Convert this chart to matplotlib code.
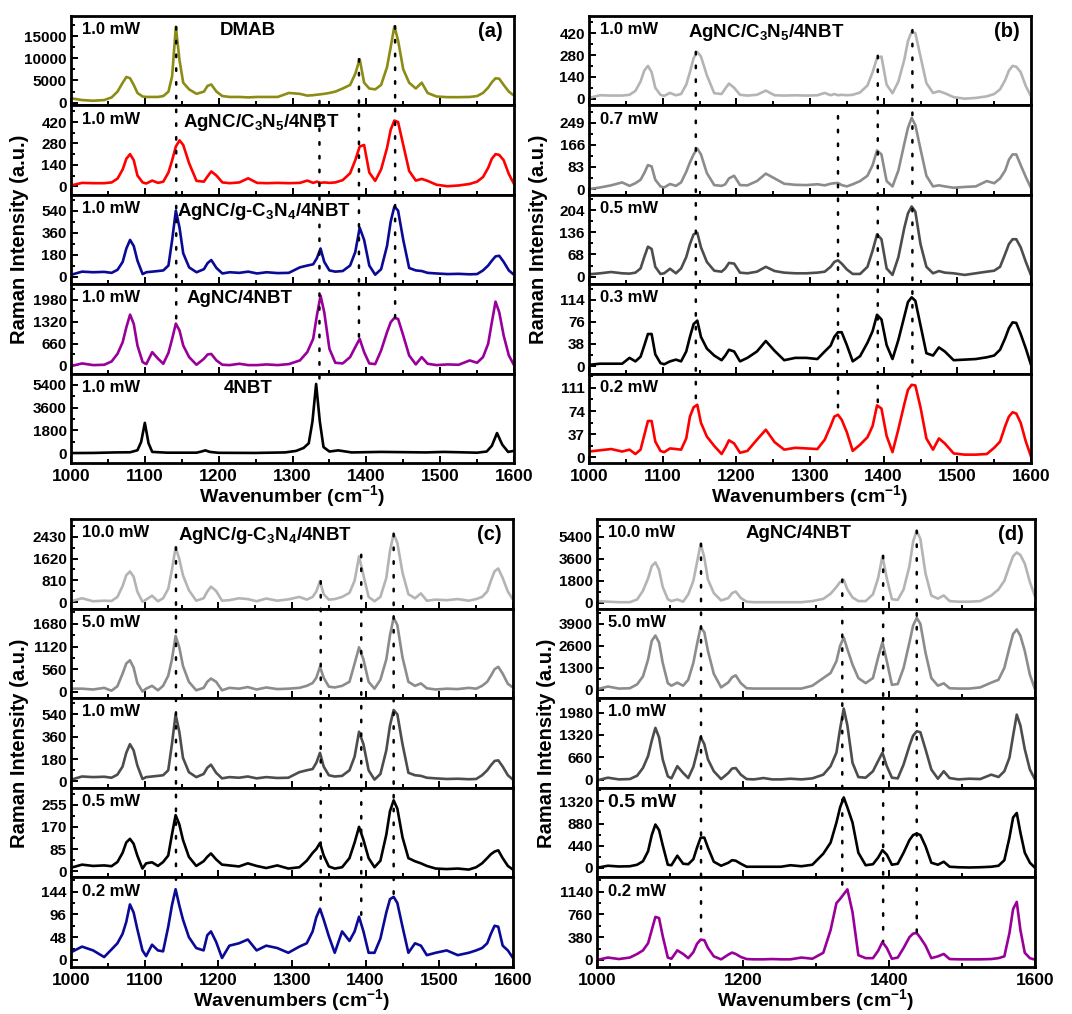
import matplotlib
matplotlib.use("Agg")
import matplotlib.pyplot as plt
from matplotlib.patches import ConnectionPatch
from matplotlib.ticker import MultipleLocator

plt.rcParams["font.family"] = ["Liberation Sans", "DejaVu Sans"]
plt.rcParams["font.weight"] = "bold"
plt.rcParams["axes.labelweight"] = "bold"
plt.rcParams["mathtext.fontset"] = "custom"
plt.rcParams["mathtext.rm"] = "Liberation Sans:bold"
plt.rcParams["mathtext.default"] = "rm"

wn = [1000, 1015, 1030, 1045, 1055, 1063, 1070, 1075, 1080, 1085,
      1090, 1097, 1102, 1110, 1118, 1125, 1132, 1137, 1142, 1147,
      1152, 1160, 1170, 1180, 1185, 1190, 1197, 1205, 1215, 1228,
      1240, 1252, 1265, 1280, 1295, 1310, 1320, 1328, 1333, 1338,
      1343, 1350, 1358, 1368, 1378, 1385, 1391, 1397, 1404, 1412,
      1420, 1428, 1433, 1438, 1443, 1450, 1458, 1467, 1475, 1483,
      1495, 1510, 1525, 1540, 1550, 1558, 1565, 1570, 1575, 1580,
      1586, 1593, 1600]

dmab_1mw = [1000, 600, 450, 600, 1200, 2500, 4500, 5800, 5500, 4000,
            2200, 1400, 1300, 1300, 1300, 1500, 2500, 6000, 17100, 9500,
            4500, 3000, 2000, 2500, 3800, 4100, 2500, 1500, 1300, 1300,
            1200, 1300, 1300, 1300, 2200, 2000, 1600, 1700, 1800, 1900,
            2000, 2200, 2500, 3200, 4000, 6500, 9800, 4500, 3200, 3000,
            4000, 8000, 12500, 17200, 14000, 7500, 4500, 3200, 4500, 2200,
            1400, 1250, 1250, 1300, 1500, 2200, 3400, 4600, 5500, 5400,
            4000, 2500, 1600]

c3n5_1mw = [5, 22, 20, 20, 25, 50, 110, 180, 210, 170,
            70, 25, 18, 37, 22, 30, 90, 170, 260, 300,
            270, 150, 35, 30, 65, 97, 70, 25, 20, 25,
            52, 22, 20, 22, 20, 22, 37, 22, 30, 22,
            25, 22, 25, 40, 85, 170, 260, 270, 90, 35,
            110, 250, 370, 430, 420, 270, 100, 37, 48, 35,
            10, 0, 5, 15, 30, 60, 120, 180, 210, 205,
            170, 80, 15]

gcn_1mw = [14, 40, 35, 38, 30, 55, 120, 230, 300, 250,
           130, 20, 35, 40, 45, 50, 90, 300, 540, 400,
           190, 75, 35, 60, 110, 135, 70, 25, 35, 30,
           40, 25, 35, 28, 30, 75, 90, 100, 150, 230,
           120, 50, 40, 45, 90, 200, 400, 300, 90, 15,
           60, 250, 450, 575, 540, 300, 70, 50, 45, 30,
           25, 20, 22, 18, 20, 50, 90, 130, 165, 170,
           120, 50, 14]

agnc_1mw = [-20, 60, 10, 20, 120, 350, 700, 1150, 1530, 1250,
            600, 100, 40, 400, 200, 50, 380, 800, 1260, 1050,
            600, 250, 20, 200, 330, 345, 150, 20, 10, 50,
            10, 10, 30, 10, 40, 150, 400, 800, 1500, 2100,
            1600, 500, 80, 60, 250, 550, 800, 400, 60, 40,
            450, 1000, 1300, 1430, 1400, 900, 300, 30, 250, 50,
            10, 30, 20, 150, 80, 250, 650, 1300, 1920, 1600,
            900, 300, 10]

# 4NBT reference has its own, finer grid around the sharp bands
wn_nbt = [1000, 1030, 1060, 1080, 1090, 1095, 1100, 1105, 1110, 1130,
          1170, 1176, 1182, 1188, 1200, 1250, 1290, 1305, 1315, 1322,
          1327, 1332, 1337, 1342, 1350, 1362, 1380, 1420, 1480, 1505,
          1550, 1563, 1570, 1577, 1584, 1592, 1600]
nbt_1mw = [30, 40, 80, 90, 250, 900, 2400, 800, 120, 60,
           60, 140, 240, 120, 50, 40, 80, 200, 430, 800,
           2500, 5450, 2500, 500, 150, 240, 80, 120, 80, 120,
           60, 150, 600, 1600, 700, 120, 200]

c3n5_07mw = [0, 6, 14, 25, 12, 22, 35, 60, 90, 85,
             35, 10, 6, 19, 12, 25, 65, 100, 130, 152,
             130, 60, 15, 12, 18, 40, 50, 15, 14, 30,
             58, 40, 20, 16, 15, 18, 14, 20, 22, 23,
             15, 10, 18, 30, 50, 90, 145, 130, 30, 10,
             70, 170, 230, 267, 240, 150, 50, 10, 14, 10,
             5, 8, 10, 30, 22, 40, 70, 110, 130, 130,
             90, 45, 4]

c3n5_05mw = [7, 10, 14, 10, 9, 12, 25, 60, 92, 85,
             30, 8, 10, 24, 10, 25, 60, 100, 130, 135,
             90, 45, 18, 15, 25, 42, 40, 12, 10, 15,
             30, 17, 12, 10, 10, 12, 15, 30, 45, 50,
             40, 22, 8, 8, 30, 80, 130, 115, 25, 5,
             60, 150, 195, 216, 200, 100, 30, 10, 17, 12,
             10, 5, 10, 15, 18, 30, 70, 100, 115, 115,
             90, 45, 4]

c3n5_03mw = [2, 4, 4, 4, 14, 8, 16, 35, 55, 55,
             20, 5, 3, 8, 11, 8, 25, 50, 72, 78,
             50, 30, 18, 10, 18, 28, 25, 8, 14, 25,
             43, 26, 10, 14, 14, 12, 25, 35, 50, 58,
             58, 36, 8, 17, 40, 60, 88, 80, 36, 12,
             45, 85, 110, 118, 112, 70, 22, 18, 32, 25,
             10, 11, 12, 15, 18, 28, 48, 65, 75, 74,
             55, 30, 2]

c3n5_02mw = [9, 11, 13, 9, 12, 5, 12, 35, 58, 58,
             25, 10, 8, 14, 13, 12, 30, 65, 80, 84,
             55, 33, 18, 5, 15, 27, 22, 7, 10, 28,
             44, 24, 12, 15, 14, 13, 28, 50, 65, 68,
             60, 40, 10, 20, 32, 50, 83, 78, 34, 8,
             45, 85, 108, 116, 115, 80, 30, 12, 30, 22,
             6, 4, 4, 5, 15, 25, 50, 65, 72, 70,
             55, 25, 1]

gcn_10mw = [40, 150, 40, 60, 50, 200, 600, 1000, 1140, 950,
            400, 20, 100, 245, 40, 150, 500, 1200, 2035, 1600,
            1000, 450, 60, 150, 400, 580, 420, 60, 80, 150,
            120, 40, 140, 60, 110, 200, 100, 200, 400, 780,
            300, 100, 120, 200, 350, 800, 1700, 1000, 200, 40,
            200, 900, 1900, 2535, 2200, 1100, 300, 150, 330, 60,
            100, 80, 120, 60, 120, 200, 400, 800, 1150, 1250,
            900, 400, 100]

gcn_5mw = [80, 80, 60, 100, 30, 140, 450, 700, 780, 600,
           220, 10, 80, 150, 40, 150, 400, 800, 1380, 1100,
           640, 250, 40, 100, 250, 330, 250, 40, 100, 80,
           120, 60, 110, 70, 80, 100, 150, 220, 350, 620,
           350, 130, 110, 150, 250, 700, 1100, 800, 250, 80,
           300, 800, 1400, 1830, 1650, 850, 250, 150, 210, 90,
           60, 80, 70, 100, 80, 150, 250, 400, 560, 620,
           450, 200, 110]

gcn_05mw = [13, 25, 20, 22, 19, 35, 70, 110, 124, 105,
            60, 10, 30, 34, 20, 35, 60, 140, 215, 180,
            120, 55, 20, 38, 55, 68, 45, 25, 22, 18,
            30, 20, 12, 22, 10, 15, 40, 70, 85, 108,
            60, 18, 10, 15, 50, 110, 170, 120, 50, 15,
            40, 140, 230, 272, 240, 130, 50, 38, 30, 20,
            10, 8, 10, 6, 15, 30, 50, 65, 75, 80,
            50, 20, 6]

gcn_02mw = [16, 28, 20, 6, 22, 35, 55, 80, 117, 100,
            65, 20, 8, 32, 20, 18, 70, 115, 149, 115,
            85, 48, 25, 20, 52, 60, 38, 4, 30, 35,
            43, 20, 30, 25, 15, 28, 35, 60, 90, 108,
            85, 50, 15, 60, 40, 60, 91, 60, 15, 15,
            45, 100, 128, 133, 120, 70, 15, 35, 30, 10,
            15, 20, 10, 15, 20, 25, 35, 55, 72, 70,
            30, 20, 4]

agnc_10mw = [150, 100, 60, 60, 280, 1000, 2000, 3000, 3300, 2700,
             1300, 300, 150, 280, 100, 700, 1800, 3300, 4820, 3700,
             1900, 800, 200, 400, 800, 930, 400, 100, 60, 60,
             60, 60, 60, 60, 150, 330, 750, 1300, 1700, 1880,
             1100, 450, 150, 150, 700, 2000, 3800, 2000, 300, 250,
             1100, 3000, 5000, 5880, 5200, 2400, 600, 350, 610, 150,
             100, 100, 150, 600, 1100, 1800, 3000, 3800, 4110, 3900,
             3200, 1700, 530]

agnc_5mw = [40, 200, 80, 100, 330, 800, 1800, 2900, 3210, 2800,
            1600, 400, 250, 430, 250, 600, 1600, 2700, 3700, 3400,
            2300, 950, 150, 450, 750, 860, 400, 100, 80, 80,
            80, 80, 80, 80, 250, 700, 1000, 1700, 2600, 3100,
            2400, 1500, 700, 400, 700, 1900, 2820, 1700, 300, 350,
            1300, 2800, 3800, 4250, 3900, 2200, 700, 250, 390, 100,
            80, 80, 150, 430, 600, 1300, 2500, 3300, 3570, 3200,
            2300, 900, 40]

agnc_05mw = [0, 40, 25, 30, 60, 130, 330, 650, 860, 750,
             450, 60, 50, 240, 80, 70, 170, 400, 600, 600,
             400, 120, 40, 100, 150, 140, 80, 20, 20, 20,
             20, 20, 50, 30, 60, 280, 500, 900, 1200, 1400,
             1200, 900, 300, 50, 70, 200, 350, 260, 60, 80,
             300, 550, 650, 680, 650, 430, 100, 60, 120, 20,
             10, 5, 10, 20, 40, 150, 600, 1000, 1090, 700,
             300, 100, 0]

agnc_02mw = [0, 40, 15, 40, 100, 160, 280, 500, 720, 700,
             400, 40, 20, 160, 100, 30, 130, 270, 340, 330,
             200, 60, 10, 90, 123, 100, 50, 15, 10, 10,
             15, 10, 10, 40, 20, 120, 500, 950, 1020, 1100,
             1180, 800, 80, 30, 30, 150, 300, 200, 20, 40,
             200, 380, 440, 450, 370, 240, 30, 60, 100, 15,
             10, 10, 10, 15, 30, 60, 450, 850, 970, 500,
             120, 30, 5]

olive = "#8c8c14"
navy = "#0a0a96"
purple = "#990099"
light = "#b4b4b4"
mid = "#8c8c8c"
dark = "#4d4d4d"

W, H = 1072, 1014
fig = plt.figure(figsize=(W / 100, H / 100), dpi=100)


def make_panel(box, rows, ylims, steps, tag, xlabel, xmajor, dots):
    left, right, top, bottom = box
    h = (bottom - top) / 5
    axes = []
    for i, (x, y, col, power, name, nx, psize) in enumerate(rows):
        ax = fig.add_axes([left / W, 1 - (top + (i + 1) * h) / H,
                           (right - left) / W, h / H])
        ax.plot(x, y, color=col, lw=1.9, solid_joinstyle="round")
        ax.set_xlim(1000, 1600)
        ax.yaxis.set_major_locator(MultipleLocator(steps[i]))
        ax.yaxis.set_minor_locator(MultipleLocator(steps[i] / 2))
        ax.xaxis.set_major_locator(MultipleLocator(xmajor))
        ax.xaxis.set_minor_locator(MultipleLocator(xmajor / 2))
        ax.tick_params(which="both", direction="in", top=False, right=False,
                       width=1.4, labelsize=11, pad=3)
        ax.tick_params(which="major", length=5)
        ax.tick_params(which="minor", length=3)
        ax.tick_params(axis="x", labelsize=12.5, pad=4)
        for sp in ax.spines.values():
            sp.set_linewidth(2)
        ax.set_ylim(*ylims[i])
        if i < 4:
            ax.tick_params(axis="x", labelbottom=False)
        ax.text(0.025, 0.93, power, transform=ax.transAxes, va="top",
                fontsize=psize)
        if name:
            ax.text(nx, 0.93, name, transform=ax.transAxes, va="top",
                    ha="center", fontsize=13.5)
        axes.append(ax)
    axes[0].text(0.975, 0.93, tag, transform=axes[0].transAxes, va="top",
                 ha="right", fontsize=14.5)
    axes[-1].set_xlabel(xlabel, fontsize=14, labelpad=0)
    for x0, r0, v0, r1, v1 in dots:
        con = ConnectionPatch((x0, v0), (x0, v1), "data", "data",
                              axesA=axes[r0], axesB=axes[r1], color="black",
                              lw=1.8, linestyle=(0, (1, 4.5)))
        fig.add_artist(con)
    fig.text((left - 51) / W, 1 - (top + bottom) / 2 / H,
             "Raman Intensity (a.u.)", rotation=90, ha="center", va="center",
             fontsize=14.5)


c3n5_lbl = "AgNC/C$_3$N$_5$/4NBT"
gcn_lbl = "AgNC/g-C$_3$N$_4$/4NBT"

make_panel((71, 514, 16, 463),
           [(wn, dmab_1mw, olive, "1.0 mW", "DMAB", 0.40, 12),
            (wn, c3n5_1mw, "red", "1.0 mW", c3n5_lbl, 0.43, 12),
            (wn, gcn_1mw, navy, "1.0 mW", gcn_lbl, 0.435, 12),
            (wn, agnc_1mw, purple, "1.0 mW", "AgNC/4NBT", 0.38, 12),
            (wn_nbt, nbt_1mw, "black", "1.0 mW", "4NBT", 0.40, 12)],
           [(-600, 19500), (-56, 529), (-63, 670), (-246, 2445), (-750, 6264)],
           [5000, 140, 180, 660, 1800], "(a)", "Wavenumber (cm$^{-1}$)", 100,
           [(1142.5, 0, 17000, 3, 1260), (1336.5, 0, 400, 4, 5400),
            (1390, 0, 9800, 3, 800), (1439, 0, 17200, 3, 1430)])

make_panel((589, 1031, 16, 463),
           [(wn, c3n5_1mw, light, "1.0 mW", c3n5_lbl, 0.40, 12),
            (wn, c3n5_07mw, mid, "0.7 mW", "", 0.4, 12),
            (wn, c3n5_05mw, dark, "0.5 mW", "", 0.4, 12),
            (wn, c3n5_03mw, "black", "0.3 mW", "", 0.4, 12),
            (wn, c3n5_02mw, "red", "0.2 mW", "", 0.4, 12)],
           [(-43, 530), (-21.5, 314), (-23.6, 252), (-13, 140.5), (-9.4, 134)],
           [140, 83, 68, 38, 37], "(b)", "Wavenumbers (cm$^{-1}$)", 100,
           [(1145, 0, 300, 4, 84), (1338, 1, 274, 4, 68),
            (1392, 0, 275, 4, 83), (1439, 0, 440, 4, 116)])

make_panel((71, 513, 519, 967),
           [(wn, gcn_10mw, light, "10.0 mW", gcn_lbl, 0.44, 12),
            (wn, gcn_5mw, mid, "5.0 mW", "", 0.4, 12),
            (wn, gcn_1mw, dark, "1.0 mW", "", 0.4, 12),
            (wn, gcn_05mw, "black", "0.5 mW", "", 0.4, 12),
            (wn, gcn_02mw, navy, "0.2 mW", "", 0.4, 12)],
           [(-232, 3082), (-155, 2056), (-51, 670), (-24, 320), (-15, 174)],
           [810, 560, 180, 85, 48], "(c)", "Wavenumbers (cm$^{-1}$)", 100,
           [(1142.5, 0, 2035, 4, 149), (1339, 0, 780, 4, 108),
            (1394, 0, 1760, 4, 91), (1438, 0, 2535, 4, 133)])

make_panel((597, 1035, 519, 967),
           [(wn, agnc_10mw, light, "10.0 mW", "AgNC/4NBT", 0.46, 12),
            (wn, agnc_5mw, mid, "5.0 mW", "", 0.4, 12),
            (wn, agnc_1mw, dark, "1.0 mW", "", 0.4, 12),
            (wn, agnc_05mw, "black", "0.5 mW", "", 0.4, 14),
            (wn, agnc_02mw, purple, "0.2 mW", "", 0.4, 12)],
           [(-462, 6835), (-488, 4800), (-238, 2405), (-192, 1591), (-118, 1380)],
           [1800, 1300, 660, 440, 380], "(d)", "Wavenumbers (cm$^{-1}$)", 200,
           [(1142.5, 0, 4820, 4, 350), (1336, 0, 1900, 4, 1100),
            (1392, 0, 3840, 4, 310), (1438, 0, 5880, 4, 450)])

fig.savefig("out.png", dpi=100)
